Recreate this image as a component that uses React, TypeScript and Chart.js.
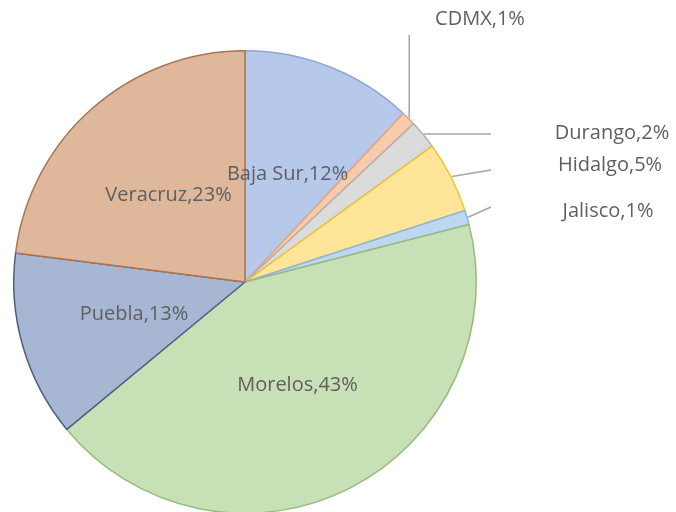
import React, { useEffect, useRef } from "react";
import { Chart, registerables } from "chart.js";

Chart.register(...registerables);

const categories = ["Baja Sur", "CDMX", "Durango", "Hidalgo", "Jalisco", "Morelos", "Puebla", "Veracruz"];
const percentages = [12, 1, 2, 5, 1, 43, 13, 23];
const fillColors = ["#B6C9EA", "#F8CBAD", "#DBDBDB", "#FFE59A", "#BDD7EE", "#C8E0B5", "#A6B6D3", "#DFB89B"];
const borderColors = ["#8EA6D6", "#E9A37A", "#B0B0B0", "#F0C22E", "#8CB6DE", "#95BC7C", "#4F607E", "#A87553"];

// Placement of the outside labels (leader line end and text centre)
const outsideLabels: Record<string, { vertical?: boolean; lx: number; ly: number; tx: number; ty: number }> = {
  CDMX: { vertical: true, lx: 0, ly: 35, tx: 480, ty: 19 },
  Durango: { lx: 491, ly: 134, tx: 612, ty: 133 },
  Hidalgo: { lx: 491, ly: 170, tx: 610, ty: 165 },
  Jalisco: { lx: 491, ly: 207, tx: 608, ty: 211 },
};

const labelPlugin = {
  id: "sliceLabels",
  afterDatasetsDraw(chart: any) {
    const ctx = chart.ctx as CanvasRenderingContext2D;
    const meta = chart.getDatasetMeta(0);
    ctx.save();
    ctx.font = "20px 'Open Sans'";
    ctx.fillStyle = "#5f5f5f";
    ctx.textBaseline = "middle";
    ctx.textAlign = "center";
    meta.data.forEach((arc: any, i: number) => {
      const { x, y, startAngle, endAngle, outerRadius } = arc.getProps(
        ["x", "y", "startAngle", "endAngle", "outerRadius"],
        true
      );
      const mid = (startAngle + endAngle) / 2;
      const text = `${categories[i]},${percentages[i]}%`;
      const out = outsideLabels[categories[i]];
      if (!out) {
        ctx.fillText(text, x + Math.cos(mid) * outerRadius * 0.5, y + Math.sin(mid) * outerRadius * 0.5);
        return;
      }
      const ex = x + Math.cos(mid) * (outerRadius + 1);
      const ey = y + Math.sin(mid) * (outerRadius + 1);
      ctx.strokeStyle = "#a6a6a6";
      ctx.lineWidth = 1.5;
      ctx.beginPath();
      ctx.moveTo(ex, ey);
      if (out.vertical) ctx.lineTo(ex, out.ly);
      else ctx.lineTo(out.lx, out.ly);
      ctx.stroke();
      ctx.fillText(text, out.tx, out.ty);
    });
    ctx.restore();
  },
};

export default function App() {
  const canvasRef = useRef<HTMLCanvasElement | null>(null);

  useEffect(() => {
    if (!canvasRef.current) return;
    const chart = new Chart(canvasRef.current, {
      type: "pie",
      data: {
        labels: categories,
        datasets: [
          {
            data: percentages,
            backgroundColor: fillColors,
            borderColor: borderColors,
            borderWidth: 1.5,
          },
        ],
      },
      options: {
        animation: false,
        responsive: true,
        maintainAspectRatio: false,
        layout: { padding: { left: 13, top: 50, right: 199, bottom: 16 } },
        plugins: {
          legend: { display: false },
          tooltip: { enabled: false },
        },
      },
      plugins: [labelPlugin],
    });
    return () => chart.destroy();
  }, []);

  return (
    <div
      style={{
        position: "fixed",
        left: 0,
        top: 0,
        width: 676,
        height: 512,
        overflow: "hidden",
        background: "#ffffff",
      }}
    >
      <div style={{ position: "relative", width: 676, height: 530 }}>
        <canvas ref={canvasRef} />
      </div>
    </div>
  );
}
